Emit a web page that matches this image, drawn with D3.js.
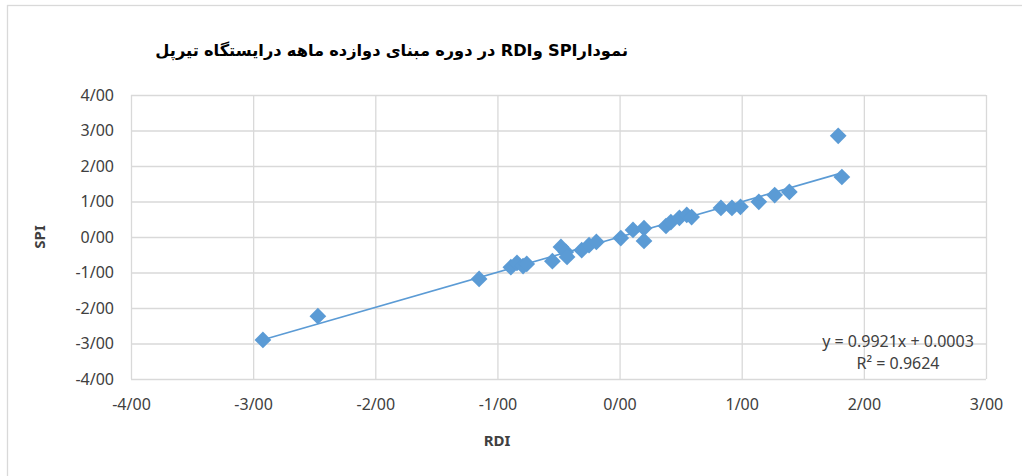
<!DOCTYPE html>
<html>
<head>
<meta charset="utf-8">
<script src="https://cdn.jsdelivr.net/npm/d3@7/dist/d3.min.js"></script>
<style>
  html, body { margin: 0; padding: 0; background: #fff; }
  svg { display: block; }
  .tick text { font-family: "Noto Sans", sans-serif; font-size: 16px; fill: #404040; }
</style>
</head>
<body>
<svg id="chart" width="1022" height="476"></svg>
<script>
// RDI (x) and SPI (y) values, twelve-month base period
const rdi = [-2.92, -2.47, -1.15, -0.89, -0.84, -0.79, -0.76, -0.55, -0.48, -0.44, -0.43,
             -0.31, -0.25, -0.19, 0.01, 0.11, 0.20, 0.20, 0.38, 0.42, 0.49, 0.55, 0.59,
             0.83, 0.92, 0.99, 1.14, 1.27, 1.39, 1.79, 1.82];
const spi = [-2.90, -2.23, -1.18, -0.85, -0.73, -0.82, -0.76, -0.68, -0.28, -0.42, -0.56,
             -0.37, -0.23, -0.14, -0.03, 0.20, 0.25, -0.11, 0.31, 0.42, 0.54, 0.62, 0.56,
             0.82, 0.82, 0.85, 0.99, 1.18, 1.27, 2.85, 1.69];

// Linear trend reported for the series
const slope = 0.9921;
const intercept = 0.0003;
const rSquared = 0.9624;

const xTicks = [-4, -3, -2, -1, 0, 1, 2, 3];
const yTicks = [-4, -3, -2, -1, 0, 1, 2, 3, 4];

const svg = d3.select("#chart");
const gridColor = "#D9D9D9";
const blue = "#5B9BD5";

// Outer chart frame
svg.append("rect")
  .attr("x", 7.5).attr("y", 5.5)
  .attr("width", 1040).attr("height", 490)
  .attr("fill", "#fff").attr("stroke", gridColor).attr("stroke-width", 1.3);

const plotL = 131, plotR = 986, plotT = 95, plotB = 379;
const x = d3.scaleLinear().domain([-4, 3]).range([plotL, plotR]);
const y = d3.scaleLinear().domain([-4, 4]).range([plotB, plotT]);

const fmt = v => d3.format(".2f")(v).replace(".", "/").replace("\u2212", "-");

// Horizontal gridlines and Y labels
const yAxis = svg.append("g")
  .attr("transform", `translate(${plotL},0)`)
  .call(d3.axisLeft(y).tickValues(yTicks).tickSize(-(plotR - plotL)).tickPadding(17).tickFormat(fmt));
yAxis.select(".domain").remove();
yAxis.selectAll(".tick line").attr("stroke", gridColor).attr("stroke-width", 1.3);

// Vertical gridlines and X labels
const xAxis = svg.append("g")
  .attr("transform", `translate(0,${plotB})`)
  .call(d3.axisBottom(x).tickValues(xTicks).tickSize(-(plotB - plotT)).tickPadding(20).tickFormat(fmt));
xAxis.select(".domain").remove();
xAxis.selectAll(".tick line").attr("stroke", gridColor).attr("stroke-width", 1.3);

// Trend line over the data range
const xMin = d3.min(rdi), xMax = d3.max(rdi);
svg.append("line")
  .attr("x1", x(xMin)).attr("y1", y(slope * xMin + intercept))
  .attr("x2", x(xMax)).attr("y2", y(slope * xMax + intercept))
  .attr("stroke", blue).attr("stroke-width", 1.6);

// Diamond markers
const diamond = d3.symbol().type(d3.symbolSquare).size(140);
svg.append("g").selectAll("path")
  .data(d3.range(rdi.length))
  .join("path")
  .attr("d", diamond)
  .attr("transform", i => `translate(${x(rdi[i])},${y(spi[i])}) rotate(45)`)
  .attr("fill", blue);

// Trend equation
const eq = svg.append("text")
  .attr("x", 898).attr("y", 347)
  .attr("text-anchor", "middle")
  .attr("font-family", "Noto Sans, sans-serif").attr("font-size", 16).attr("fill", "#404040");
eq.append("tspan").text(`y = ${slope}x + ${intercept.toFixed(4)}`);
eq.append("tspan").attr("x", 898).attr("dy", 22).text(`R\u00B2 = ${rSquared}`);

// Axis titles
svg.append("text")
  .attr("x", 497).attr("y", 446)
  .attr("text-anchor", "middle")
  .attr("font-family", "Noto Sans, sans-serif").attr("font-size", 15).attr("font-weight", "bold")
  .attr("fill", "#404040").text("RDI");
svg.append("text")
  .attr("transform", "translate(45,237) rotate(-90)")
  .attr("text-anchor", "middle")
  .attr("font-family", "Noto Sans, sans-serif").attr("font-size", 15).attr("font-weight", "bold")
  .attr("fill", "#404040").text("SPI");

// Title: words in reading order, laid out right to left
// (gap = true means a word space precedes the piece)
const titlePieces = [
  { t: "نمودار", gap: false }, { t: "SPI", gap: false },
  { t: "و", gap: true }, { t: "RDI", gap: false },
  { t: "در", gap: true }, { t: "دوره", gap: true }, { t: "مبنای", gap: true },
  { t: "دوازده", gap: true }, { t: "ماهه", gap: true },
  { t: "درایستگاه", gap: true }, { t: "تیرپل", gap: true }
];
const titleRight = 628, titleWidth = 473;
const titleTexts = svg.append("g").selectAll("text")
  .data(titlePieces).join("text")
  .attr("y", 56)
  .attr("font-family", "DejaVu Sans, sans-serif").attr("font-weight", "bold")
  .attr("fill", "#000")
  .text(d => d.t);

function layoutTitle(size) {
  titleTexts.attr("font-size", size);
  let cx = titleRight;
  titleTexts.each(function (d) {
    if (d.gap) cx -= size * 0.32;
    const w = this.getComputedTextLength();
    cx -= w;
    d3.select(this).attr("x", cx);
  });
  return titleRight - cx;
}
const w0 = layoutTitle(17);
layoutTitle(17 * titleWidth / w0);
</script>
</body>
</html>
